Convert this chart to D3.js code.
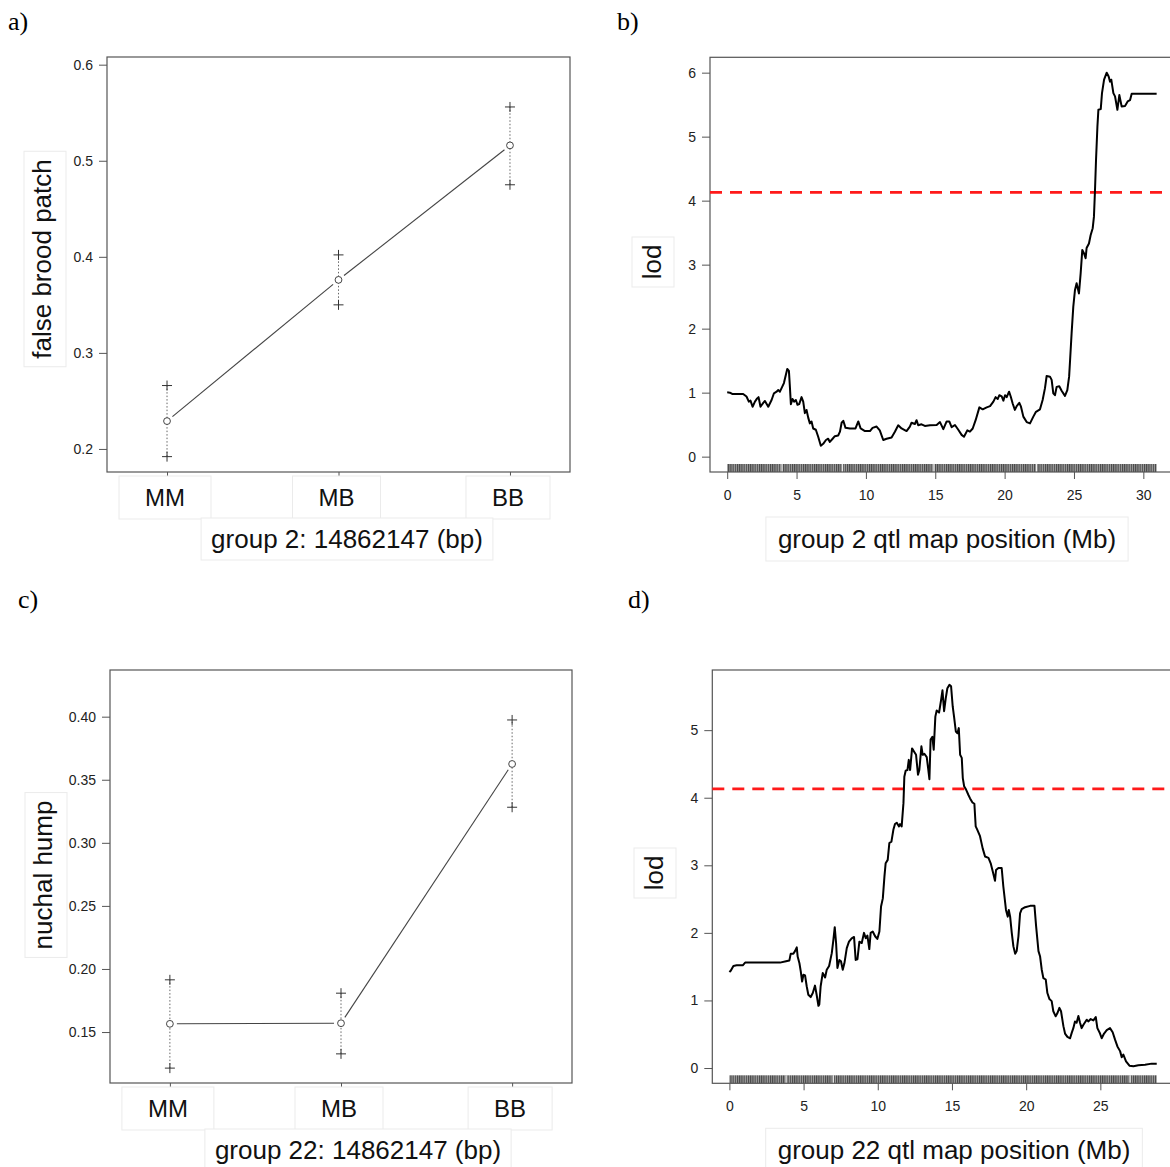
<!DOCTYPE html>
<html>
<head>
<meta charset="utf-8">
<script src="https://cdn.jsdelivr.net/npm/d3@7"></script>
<style>
  html, body { margin: 0; padding: 0; background: #fff; }
  svg { display: block; }
  text { font-family: "Liberation Sans", Arial, Helvetica, sans-serif; }
</style>
</head>
<body>
<svg id="chart" width="1170" height="1167"></svg>
<script>
// ---------------- DATA ----------------
const genotypes = ["MM", "MB", "BB"];

// panel a: false brood patch by genotype (group 2)
const fbpMean  = [0.229, 0.376, 0.516];
const fbpUpper = [0.266, 0.402, 0.556];
const fbpLower = [0.192, 0.350, 0.475];
const fbpTicks = [0.2, 0.3, 0.4, 0.5, 0.6];

// panel c: nuchal hump by genotype (group 22)
const nhMean  = [0.1565, 0.157, 0.3625];
const nhUpper = [0.1914, 0.1808, 0.3974];
const nhLower = [0.1214, 0.1327, 0.3282];
const nhTicks = [0.15, 0.20, 0.25, 0.30, 0.35, 0.40];

// panel b: LOD profile along group 2 (Mb, lod)
const posB = [0,0.19,0.36,1.15,1.39,1.56,1.68,1.83,2.0,2.16,2.26,2.4,2.6,2.72,2.96,3.2,3.37,3.56,3.68,3.8,3.92,4.09,4.23,4.33,4.45,4.52,4.59,4.71,4.83,4.95,5.07,5.19,5.36,5.48,5.6,5.72,5.84,5.96,6.08,6.2,6.39,6.56,6.75,6.92,7.12,7.28,7.4,7.6,7.76,8.0,8.13,8.25,8.37,8.53,8.85,9.25,9.45,9.62,9.93,10.29,10.48,10.77,11.0,11.25,11.49,11.85,12.09,12.33,12.57,12.93,13.17,13.29,13.53,13.65,13.77,14.01,14.25,14.62,15.1,15.34,15.58,15.82,16.01,16.18,16.42,16.66,16.9,17.07,17.31,17.5,17.7,17.91,18.18,18.42,18.71,18.95,19.19,19.35,19.5,19.62,19.79,19.91,20.03,20.15,20.32,20.44,20.58,20.74,20.87,21.06,21.18,21.35,21.59,21.83,22.07,22.26,22.55,22.74,22.91,23.03,23.27,23.39,23.51,23.63,23.75,23.94,24.11,24.35,24.52,24.65,24.72,24.83,24.95,25.07,25.19,25.36,25.48,25.6,25.72,25.84,25.91,26.08,26.2,26.35,26.44,26.51,26.59,26.69,26.76,26.93,27.02,27.17,27.36,27.5,27.6,27.69,27.84,27.96,28.13,28.27,28.44,28.68,28.87,29.04,29.16,30.96];
const lodB = [1.005,1.0,0.98,0.98,0.94,0.86,0.875,0.78,0.86,0.91,0.93,0.78,0.84,0.87,0.78,0.885,0.99,1.015,1.04,1.015,1.07,1.15,1.28,1.37,1.34,1.09,0.82,0.90,0.86,0.885,0.81,0.82,0.93,0.86,0.68,0.73,0.61,0.52,0.55,0.44,0.42,0.31,0.17,0.20,0.26,0.28,0.23,0.28,0.32,0.33,0.39,0.53,0.56,0.45,0.44,0.44,0.55,0.44,0.40,0.40,0.45,0.47,0.41,0.26,0.28,0.30,0.39,0.49,0.44,0.40,0.47,0.53,0.51,0.57,0.49,0.505,0.48,0.49,0.495,0.54,0.43,0.55,0.55,0.46,0.495,0.42,0.34,0.31,0.41,0.39,0.44,0.57,0.77,0.74,0.77,0.79,0.86,0.93,0.90,0.96,0.94,0.875,0.96,0.93,1.015,0.94,0.83,0.73,0.79,0.84,0.78,0.625,0.54,0.52,0.625,0.70,0.74,0.885,1.07,1.26,1.25,1.2,0.99,0.96,1.09,1.10,1.03,0.95,1.04,1.25,1.51,1.93,2.34,2.60,2.71,2.55,2.86,3.23,3.18,3.10,3.26,3.33,3.46,3.57,3.75,4.13,4.64,5.16,5.42,5.43,5.68,5.89,6.0,5.94,5.86,5.89,5.68,5.63,5.42,5.65,5.47,5.48,5.55,5.57,5.67,5.67];
const rugB = [0, 30.96];
const rugGapsB = [3.95, 8.3, 14.9, 22.3];

// panel d: LOD profile along group 22 (Mb, lod)
const posD = [0,0.09,0.27,0.49,0.9,1.06,2.07,3.41,3.82,4.04,4.13,4.31,4.42,4.54,4.6,4.72,4.81,4.9,4.99,5.1,5.21,5.32,5.48,5.62,5.77,5.88,6.0,6.06,6.15,6.29,6.45,6.56,6.72,6.9,7.01,7.1,7.19,7.28,7.41,7.52,7.64,7.75,7.91,8.06,8.24,8.4,8.51,8.63,8.76,8.92,9.07,9.19,9.3,9.43,9.52,9.66,9.82,9.97,10.11,10.22,10.34,10.45,10.53,10.67,10.78,10.92,11.05,11.16,11.28,11.43,11.5,11.61,11.73,11.79,11.88,12.0,12.09,12.18,12.31,12.45,12.58,12.71,12.8,12.94,13.03,13.14,13.3,13.39,13.48,13.56,13.68,13.77,13.88,13.97,14.13,14.27,14.36,14.47,14.58,14.69,14.83,14.94,15.05,15.14,15.26,15.37,15.46,15.55,15.66,15.73,15.82,15.95,16.11,16.22,16.38,16.51,16.6,16.71,16.89,17.07,17.23,17.46,17.61,17.75,17.9,17.97,18.13,18.35,18.46,18.64,18.76,18.83,18.92,19.03,19.14,19.26,19.36,19.48,19.59,19.7,19.93,20.27,20.56,20.67,20.83,20.94,21.05,21.16,21.32,21.43,21.57,21.72,21.83,21.99,22.1,22.24,22.35,22.51,22.62,22.78,22.96,23.07,23.18,23.29,23.4,23.52,23.63,23.74,23.86,24.08,24.2,24.35,24.53,24.69,24.8,24.98,25.09,25.25,25.43,25.65,25.83,25.99,26.15,26.33,26.44,26.55,26.73,26.96,27.23,27.56,28.01,28.46,28.8];
const lodD = [1.42,1.44,1.51,1.52,1.52,1.56,1.56,1.56,1.58,1.59,1.69,1.69,1.73,1.785,1.65,1.55,1.43,1.28,1.38,1.37,1.21,1.085,1.05,1.11,1.22,1.085,0.92,0.94,1.21,1.405,1.34,1.455,1.51,1.70,1.90,2.085,1.85,1.48,1.60,1.58,1.455,1.55,1.775,1.87,1.92,1.94,1.60,1.61,1.87,1.85,2.0,1.92,1.96,1.76,2.0,2.02,1.95,1.91,2.02,2.39,2.51,2.835,3.03,3.08,3.33,3.35,3.525,3.61,3.63,3.575,3.61,3.575,3.92,4.31,4.40,4.41,4.56,4.41,4.73,4.68,4.635,4.34,4.41,4.76,4.635,4.65,4.60,4.44,4.275,4.86,4.90,4.71,5.2,5.29,5.26,5.45,5.59,5.28,5.47,5.62,5.67,5.65,5.35,5.2,4.98,4.955,5.03,4.635,4.59,4.29,4.17,4.12,4.04,3.99,3.93,3.91,3.575,3.525,3.43,3.25,3.13,3.11,3.03,2.91,2.77,2.93,2.96,2.96,2.69,2.34,2.24,2.34,2.24,2.0,1.80,1.69,1.73,1.95,2.29,2.35,2.38,2.40,2.40,2.10,1.73,1.65,1.455,1.33,1.31,1.11,1.02,0.99,0.84,0.765,0.81,0.89,0.84,0.62,0.51,0.46,0.44,0.52,0.59,0.69,0.67,0.77,0.67,0.59,0.64,0.715,0.69,0.725,0.705,0.755,0.59,0.51,0.44,0.51,0.56,0.59,0.53,0.42,0.32,0.25,0.16,0.20,0.10,0.035,0.025,0.04,0.05,0.065,0.065];
const rugD = [0, 28.8];
const rugGapsD = [3.82, 7.0, 27.0];

const lodThreshold = 4.13;
const ticksB = [0, 5, 10, 15, 20, 25, 30];
const ticksBy = [0, 1, 2, 3, 4, 5, 6];
const ticksD = [0, 5, 10, 15, 20, 25];
const ticksDy = [0, 1, 2, 3, 4, 5];

// ---------------- DRAW ----------------
const svg = d3.select("#chart");
const BOX = "#555";
const faint = "#ebebeb";
const TITLE_PX = "26px";

// stripe pattern for the marker rug
const defs = svg.append("defs");
const pat = defs.append("pattern").attr("id", "rug").attr("patternUnits", "userSpaceOnUse")
  .attr("width", 2.2).attr("height", 10);
pat.append("rect").attr("width", 2.2).attr("height", 10).attr("fill", "#a0a0a0");
pat.append("rect").attr("width", 1.1).attr("height", 10).attr("fill", "#444");

function faintBox(g, textSel, padX, padY) {
  const bb = textSel.node().getBBox();
  g.insert("rect", ":first-child")
    .attr("x", bb.x - padX).attr("y", bb.y - padY)
    .attr("width", bb.width + 2 * padX).attr("height", bb.height + 2 * padY)
    .attr("fill", "#fff").attr("stroke", faint).attr("stroke-width", 1);
}

function styleAxis(g) {
  g.select(".domain").remove();
  g.selectAll(".tick line").attr("stroke", BOX).attr("stroke-width", 1);
  g.selectAll(".tick text").attr("fill", "#222").style("font-size", "14px")
    .style("font-family", "'Liberation Sans', Arial, sans-serif");
}

function effectPanel(cfg) {
  const g = svg.append("g");
  const x = d3.scaleLinear().domain([0.65, 3.35]).range([cfg.x0, cfg.x1]);
  const y = d3.scaleLinear().domain(cfg.ydom).range([cfg.y1, cfg.y0]);

  const ya = g.append("g").attr("transform", `translate(${cfg.x0},0)`)
    .call(d3.axisLeft(y).tickValues(cfg.ticks).tickFormat(d3.format(cfg.fmt)).tickSize(8).tickPadding(6));
  styleAxis(ya);
  const xa = g.append("g").attr("transform", `translate(0,${cfg.y1})`)
    .call(d3.axisBottom(x).tickValues([1, 2, 3]).tickFormat("").tickSize(6));
  styleAxis(xa);

  // genotype labels
  const lg = g.append("g");
  genotypes.forEach((gt, i) => {
    const sub = lg.append("g");
    const t = sub.append("text").attr("x", x(i + 1) - 2).attr("y", cfg.y1 + 34)
      .attr("text-anchor", "middle").style("font-size", "24px").attr("fill", "#111").text(gt);
    faintBox(sub, t, 26, 8);
  });

  // box
  g.append("rect").attr("x", cfg.x0).attr("y", cfg.y0)
    .attr("width", cfg.x1 - cfg.x0).attr("height", cfg.y1 - cfg.y0)
    .attr("fill", "none").attr("stroke", BOX).attr("stroke-width", 1.2);

  // error bars (dotted) and + marks
  cfg.mean.forEach((m, i) => {
    const cx = x(i + 1);
    g.append("line").attr("x1", cx).attr("x2", cx)
      .attr("y1", y(cfg.lower[i])).attr("y2", y(cfg.upper[i]))
      .attr("stroke", "#666").attr("stroke-width", 1).attr("stroke-dasharray", "1.5,2");
    [cfg.lower[i], cfg.upper[i]].forEach(v => {
      const py = y(v);
      g.append("line").attr("x1", cx - 5).attr("x2", cx + 5).attr("y1", py).attr("y2", py)
        .attr("stroke", "#333").attr("stroke-width", 1);
      g.append("line").attr("x1", cx).attr("x2", cx).attr("y1", py - 5).attr("y2", py + 5)
        .attr("stroke", "#333").attr("stroke-width", 1);
    });
  });

  // connecting line with gaps at the points (type = "b")
  for (let i = 0; i < cfg.mean.length - 1; i++) {
    const ax = x(i + 1), ay = y(cfg.mean[i]), bx = x(i + 2), by = y(cfg.mean[i + 1]);
    const dx = bx - ax, dy = by - ay, L = Math.hypot(dx, dy), gap = 7;
    g.append("line")
      .attr("x1", ax + dx / L * gap).attr("y1", ay + dy / L * gap)
      .attr("x2", bx - dx / L * gap).attr("y2", by - dy / L * gap)
      .attr("stroke", "#444").attr("stroke-width", 1.1);
  }
  cfg.mean.forEach((m, i) => {
    g.append("circle").attr("cx", x(i + 1)).attr("cy", y(m)).attr("r", 3.4)
      .attr("fill", "#fff").attr("stroke", "#444").attr("stroke-width", 1);
  });

  // axis titles
  const xt = g.append("g");
  const xtt = xt.append("text").attr("x", cfg.xlabX).attr("y", cfg.y1 + 76)
    .attr("text-anchor", "middle").style("font-size", TITLE_PX).attr("fill", "#111").text(cfg.xlab);
  faintBox(xt, xtt, 10, 6);
  const yt = g.append("g");
  const ytt = yt.append("text").attr("transform", `translate(${cfg.ylabX},${cfg.ylabY}) rotate(-90)`)
    .attr("text-anchor", "middle").style("font-size", TITLE_PX).attr("fill", "#111").text(cfg.ylab);
  const bb = ytt.node().getBBox();
  yt.insert("rect", ":first-child")
    .attr("x", cfg.ylabX - 27).attr("y", cfg.ylabY - bb.width / 2 - 8)
    .attr("width", 42).attr("height", bb.width + 16)
    .attr("fill", "#fff").attr("stroke", faint);
}

function lodPanel(cfg) {
  const g = svg.append("g");
  const x = d3.scaleLinear().domain(cfg.xdom).range([cfg.x0, cfg.x1]);
  const y = d3.scaleLinear().domain(cfg.ydom).range([cfg.y1, cfg.y0]);

  const ya = g.append("g").attr("transform", `translate(${cfg.x0},0)`)
    .call(d3.axisLeft(y).tickValues(cfg.yticks).tickFormat(d3.format("d")).tickSize(8).tickPadding(6));
  styleAxis(ya);
  const xa = g.append("g").attr("transform", `translate(0,${cfg.y1})`)
    .call(d3.axisBottom(x).tickValues(cfg.xticks).tickFormat(d3.format("d")).tickSize(7).tickPadding(11));
  styleAxis(xa);

  // marker rug
  const rugH = 8;
  g.append("rect").attr("x", x(cfg.rug[0])).attr("y", cfg.y1 - rugH)
    .attr("width", x(cfg.rug[1]) - x(cfg.rug[0])).attr("height", rugH).attr("fill", "url(#rug)");
  cfg.gaps.forEach(v => {
    g.append("line").attr("x1", x(v)).attr("x2", x(v)).attr("y1", cfg.y1 - rugH).attr("y2", cfg.y1)
      .attr("stroke", "#eee").attr("stroke-width", 1.2);
  });

  // box
  g.append("rect").attr("x", cfg.x0).attr("y", cfg.y0)
    .attr("width", cfg.x1 - cfg.x0).attr("height", cfg.y1 - cfg.y0)
    .attr("fill", "none").attr("stroke", BOX).attr("stroke-width", 1.2);

  // threshold
  g.append("line").attr("x1", cfg.x0).attr("x2", cfg.x1)
    .attr("y1", y(lodThreshold)).attr("y2", y(lodThreshold))
    .attr("stroke", "#ff1a1a").attr("stroke-width", 2.8).attr("stroke-dasharray", "12,8");

  // curve
  const pts = cfg.pos.map((p, i) => [p, cfg.lod[i]]);
  g.append("path").datum(pts)
    .attr("d", d3.line().x(d => x(d[0])).y(d => y(d[1])))
    .attr("fill", "none").attr("stroke", "#000").attr("stroke-width", 2).attr("stroke-linejoin", "round");

  // titles
  const xt = g.append("g");
  const xtt = xt.append("text").attr("x", cfg.xlabX).attr("y", cfg.y1 + 76)
    .attr("text-anchor", "middle").style("font-size", TITLE_PX).attr("fill", "#111").text(cfg.xlab);
  faintBox(xt, xtt, 12, 7);
  const yt = g.append("g");
  yt.append("rect").attr("x", cfg.ylabX - 21).attr("y", cfg.ylabY - 25)
    .attr("width", 42).attr("height", 50).attr("fill", "#fff").attr("stroke", faint);
  yt.append("text").attr("transform", `translate(${cfg.ylabX + 8},${cfg.ylabY}) rotate(-90)`)
    .attr("text-anchor", "middle").style("font-size", TITLE_PX).attr("fill", "#111").text("lod");
}

effectPanel({ x0: 107, x1: 570, y0: 57, y1: 472, ydom: [0.176, 0.608], ticks: fbpTicks, fmt: ".1f",
  mean: fbpMean, upper: fbpUpper, lower: fbpLower,
  xlab: "group 2: 14862147 (bp)", xlabX: 347, ylab: "false brood patch", ylabX: 51, ylabY: 259 });

effectPanel({ x0: 110, x1: 572, y0: 670, y1: 1083, ydom: [0.1096, 0.437], ticks: nhTicks, fmt: ".2f",
  mean: nhMean, upper: nhUpper, lower: nhLower,
  xlab: "group 22: 14862147 (bp)", xlabX: 358, ylab: "nuchal hump", ylabX: 52, ylabY: 875 });

lodPanel({ x0: 710, x1: 1174.4, y0: 57.3, y1: 472, xdom: [-1.24, 32.24], ydom: [-0.24, 6.24],
  xticks: ticksB, yticks: ticksBy, pos: posB, lod: lodB, rug: rugB, gaps: rugGapsB,
  xlab: "group 2 qtl map position (Mb)", xlabX: 947, ylabX: 653, ylabY: 262 });

lodPanel({ x0: 712.3, x1: 1173.8, y0: 670, y1: 1083.3, xdom: [-1.152, 29.95], ydom: [-0.226, 5.89],
  xticks: ticksD, yticks: ticksDy, pos: posD, lod: lodD, rug: rugD, gaps: rugGapsD,
  xlab: "group 22 qtl map position (Mb)", xlabX: 954, ylabX: 655, ylabY: 873 });

// panel letters
const letters = [["a)", 8, 30], ["b)", 617, 30], ["c)", 18, 608], ["d)", 628, 608]];
letters.forEach(([t, lx, ly]) => {
  svg.append("text").attr("x", lx).attr("y", ly)
    .style("font-family", "'Liberation Serif', 'Times New Roman', serif").style("font-size", "26px")
    .attr("fill", "#000").text(t);
});
</script>
</body>
</html>
